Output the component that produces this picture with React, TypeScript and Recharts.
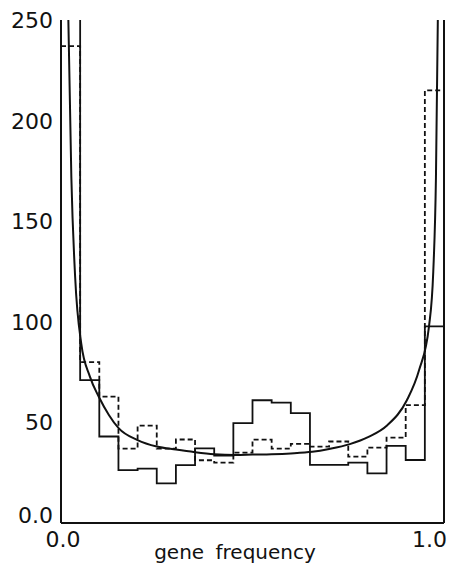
import React from "react";
import { ComposedChart, Line, XAxis, YAxis, ReferenceLine } from "recharts";

// histogram bins (start of each 0.05-wide bin)
const binStarts = [0, 0.05, 0.1, 0.15, 0.2, 0.25, 0.3, 0.35, 0.4, 0.45, 0.5, 0.55, 0.6, 0.65, 0.7, 0.75, 0.8, 0.85, 0.9, 0.95];
const binEnd = 1.0;

// solid histogram (first bin runs off the top)
const solidCounts = [300, 71, 43, 26.3, 27, 19.7, 28.8, 37.1, 33.5, 49.6, 61, 59.8, 54.6, 28.9, 28.9, 30, 24.7, 38.3, 31.3, 97.7];
// dashed histogram
const dashedCounts = [237, 80, 62.8, 37, 48.4, 37, 41.5, 31.2, 30, 35, 41.4, 37, 39.3, 38, 40.5, 33, 37.5, 42.4, 58.6, 215];

// fitted U-shaped curve
const curveFreq = [0.019, 0.027, 0.037, 0.053, 0.075, 0.099, 0.125, 0.151, 0.2, 0.25, 0.3, 0.35, 0.4, 0.455, 0.5, 0.55, 0.6, 0.656, 0.7, 0.754, 0.803, 0.852, 0.903, 0.935, 0.961, 0.972, 0.979, 0.984];
const curveValue = [252, 172, 122, 89, 73, 62.6, 53.7, 47, 41.2, 38, 36.5, 35.2, 34.2, 33.8, 34, 34.2, 34.6, 35.4, 36.8, 39.2, 42.8, 48.6, 61, 76, 98, 125, 172, 252];

const yTicks = [0, 50, 100, 150, 200, 250];
const xTicks = [0, 1];

type Row = { x: number; solid?: number; dashed?: number; curve?: number };

function buildRows(): Row[] {
  const rows: Row[] = [];
  binStarts.forEach((b, i) => rows.push({ x: b, solid: solidCounts[i], dashed: dashedCounts[i] }));
  rows.push({ x: binEnd, solid: solidCounts[solidCounts.length - 1], dashed: dashedCounts[dashedCounts.length - 1] });
  curveFreq.forEach((f, i) => rows.push({ x: f, curve: curveValue[i] }));
  return rows.sort((a, b) => a.x - b.x);
}

const data = buildRows();

const FONT = "'DejaVu Sans', sans-serif";

const YTick = (props: any) => {
  const { y, payload } = props;
  const v = payload.value;
  return (
    <text x={53} y={v === 0 ? y - 8 : y} dy="0.36em" textAnchor="end" fontFamily={FONT} fontSize={22} fill="#111">
      {v === 0 ? "0.0" : v}
    </text>
  );
};

const XTick = (props: any) => {
  const { x, payload } = props;
  const v = payload.value;
  return (
    <text x={v === 0 ? x + 2 : x + 3} y={547} textAnchor={v === 0 ? "middle" : "end"} fontFamily={FONT} fontSize={22} fill="#111">
      {v === 0 ? "0.0" : "1.0"}
    </text>
  );
};

export default function App() {
  return (
    <div style={{ position: "absolute", left: 0, top: 0, width: 455, height: 565, background: "#fff" }}>
      <ComposedChart width={455} height={565} data={data} margin={{ top: 20, right: 11, bottom: 0, left: 0 }}>
        <XAxis
          type="number"
          dataKey="x"
          domain={[0, 1]}
          ticks={xTicks}
          height={42}
          tickLine={false}
          axisLine={{ stroke: "#111", strokeWidth: 2 }}
          tick={<XTick />}
          label={{
            content: () => (
              <text x={235} y={559} textAnchor="middle" fontFamily={FONT} fontSize={20} wordSpacing={5} fill="#111">
                gene frequency
              </text>
            ),
          }}
        />
        <YAxis
          type="number"
          domain={[0, 250]}
          allowDataOverflow
          ticks={yTicks}
          width={61}
          tickLine={false}
          axisLine={{ stroke: "#111", strokeWidth: 2 }}
          tick={<YTick />}
        />
        <ReferenceLine x={1} stroke="#111" strokeWidth={2} />
        <Line
          dataKey="dashed"
          type="stepAfter"
          stroke="#111"
          strokeWidth={1.8}
          strokeDasharray="5 3"
          dot={false}
          activeDot={false}
          connectNulls
          isAnimationActive={false}
        />
        <Line
          dataKey="solid"
          type="stepAfter"
          stroke="#111"
          strokeWidth={1.8}
          dot={false}
          activeDot={false}
          connectNulls
          isAnimationActive={false}
        />
        <Line
          dataKey="curve"
          type="monotone"
          stroke="#111"
          strokeWidth={2}
          dot={false}
          activeDot={false}
          connectNulls
          isAnimationActive={false}
        />
      </ComposedChart>
    </div>
  );
}
